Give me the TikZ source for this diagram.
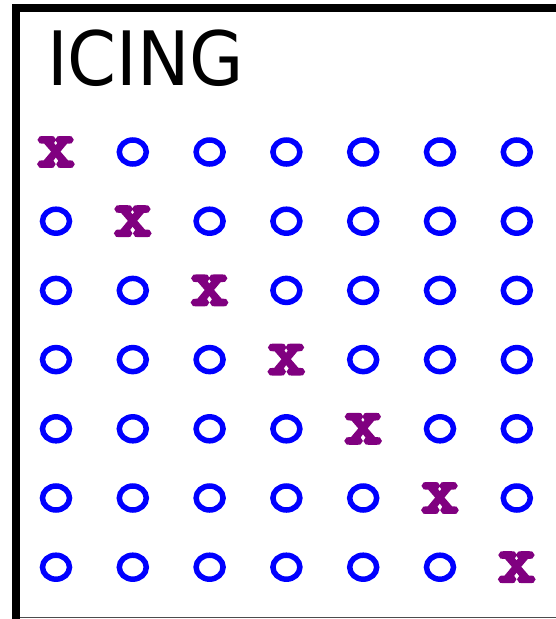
\documentclass[tikz,border=0pt]{standalone}
\usepackage{fontspec}
\usepackage{xcolor}
\usetikzlibrary{shapes.geometric}
\newfontfamily\titlefont{DejaVu Sans}
\newfontfamily\markfont[FakeBold=6]{Latin Modern Mono}
\definecolor{spinpurple}{RGB}{128,0,128}
\definecolor{spinblue}{RGB}{0,0,255}
\tikzset{
  omark/.style={ellipse, draw=spinblue, line width=5.5pt, inner sep=0pt,
    minimum width=27pt, minimum height=24pt},
  xmark/.style={text=spinpurple, inner sep=0pt, xscale=1.02, yscale=0.93,
    font=\markfont\bfseries\fontsize{70}{70}\selectfont},
}
\begin{document}
\begin{tikzpicture}[x=1pt, y=-1pt]
    \useasboundingbox (0,0) rectangle (556,619);
    \fill[white] (0,0) rectangle (556,619);
    % frame, open on the right
    \coordinate (fbl) at (16.3,619);
    \coordinate (ftl) at (16.3,8);
    \coordinate (ftr) at (556,8);
    \draw[line width=8pt] (fbl) -- (ftl) -- (ftr);
    \coordinate (bl) at (20,617.5);
    \coordinate (br) at (556,617.5);
    \draw[line width=1pt, black!70] (bl) -- (br);
    \node[font=\titlefont\fontsize{75}{75}\selectfont, anchor=base west, inner sep=0pt, xscale=0.935] (title) at (47,85) {ICING};
    % spins: x on the diagonal, o elsewhere
    \foreach \i in {1,...,7} {
        \foreach \j in {1,...,7} {
            \ifnum\i=\j
                \node[xmark] (s-\i-\j) at ({56+76.8*(\j-1)}, {152+69.2*(\i-1)}) {x};
            \else
                \node[omark] (s-\i-\j) at ({56+76.8*(\j-1)}, {152+69.2*(\i-1)}) {};
            \fi
        }
    }
\end{tikzpicture}
\end{document}
